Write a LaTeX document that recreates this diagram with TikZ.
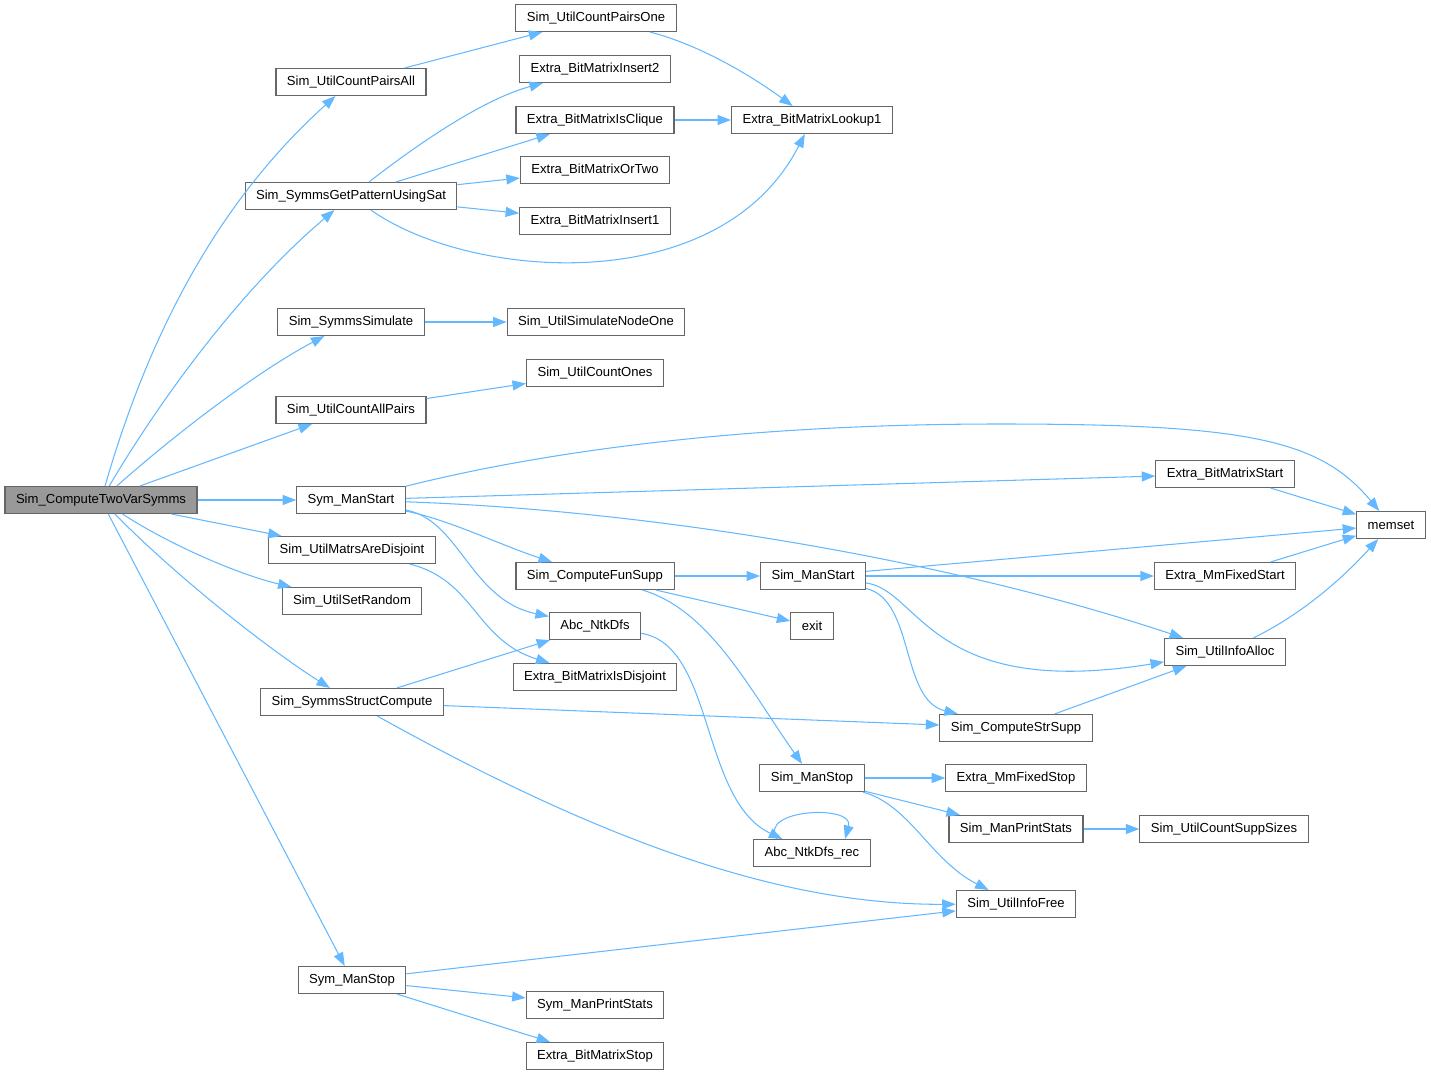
\documentclass[tikz,border=0pt]{standalone}
\usepackage{fontspec}
\setmainfont{Liberation Sans}
\usetikzlibrary{arrows.meta}
\definecolor{edgeblue}{RGB}{99,184,255}
\definecolor{boxgray}{RGB}{102,102,102}
\definecolor{rootgray}{RGB}{153,153,153}
\begin{document}
\begin{tikzpicture}[x=0.02cm,y=-0.02cm]
\tikzset{
  fnnode/.style={rectangle,draw=boxgray,line width=0.6pt,fill=white,minimum height=0.54cm,inner xsep=0.22cm,inner ysep=1pt,font=\fontsize{7.45}{9}\selectfont},
  rootnode/.style={fnnode,fill=rootgray},
  callarrow/.style={draw=edgeblue,line width=0.6pt,-{Triangle[length=0.27cm,width=0.2cm]}}
}
\useasboundingbox (0,0) rectangle (1431,1075);
\node[rootnode] (n_CTVS) at (101,500) {Sim\_ComputeTwoVarSymms};
\node[fnnode] (n_UCPA) at (351,82) {Sim\_UtilCountPairsAll};
\node[fnnode] (n_UCPO) at (596,18) {Sim\_UtilCountPairsOne};
\node[fnnode] (n_BMI2) at (595,69) {Extra\_BitMatrixInsert2};
\node[fnnode] (n_BMIC) at (595,120) {Extra\_BitMatrixIsClique};
\node[fnnode] (n_BML1) at (812,120) {Extra\_BitMatrixLookup1};
\node[fnnode] (n_BMOT) at (595,170) {Extra\_BitMatrixOrTwo};
\node[fnnode] (n_SGPS) at (351,196) {Sim\_SymmsGetPatternUsingSat};
\node[fnnode] (n_BMI1) at (595,221) {Extra\_BitMatrixInsert1};
\node[fnnode] (n_SSIM) at (351,322) {Sim\_SymmsSimulate};
\node[fnnode] (n_USNO) at (596,322) {Sim\_UtilSimulateNodeOne};
\node[fnnode] (n_UCO) at (595,373) {Sim\_UtilCountOnes};
\node[fnnode] (n_UCAP) at (351,410) {Sim\_UtilCountAllPairs};
\node[fnnode] (n_SYMS) at (351,500) {Sym\_ManStart};
\node[fnnode] (n_BMS) at (1225,474) {Extra\_BitMatrixStart};
\node[fnnode] (n_MEMS) at (1391,525) {memset};
\node[fnnode] (n_UMAD) at (352,550) {Sim\_UtilMatrsAreDisjoint};
\node[fnnode] (n_CFS) at (595,576) {Sim\_ComputeFunSupp};
\node[fnnode] (n_SIMS) at (813,576) {Sim\_ManStart};
\node[fnnode] (n_MMFS) at (1225,576) {Extra\_MmFixedStart};
\node[fnnode] (n_USR) at (352,601) {Sim\_UtilSetRandom};
\node[fnnode] (n_DFS) at (595,626) {Abc\_NtkDfs};
\node[fnnode] (n_EXIT) at (812,626) {exit};
\node[fnnode] (n_UIA) at (1225,652) {Sim\_UtilInfoAlloc};
\node[fnnode] (n_BMID) at (595,677) {Extra\_BitMatrixIsDisjoint};
\node[fnnode] (n_SSC) at (352,702) {Sim\_SymmsStructCompute};
\node[fnnode] (n_CSS) at (1016,728) {Sim\_ComputeStrSupp};
\node[fnnode] (n_SIMP) at (812,778) {Sim\_ManStop};
\node[fnnode] (n_MMFP) at (1016,778) {Extra\_MmFixedStop};
\node[fnnode] (n_MPS) at (1016,829) {Sim\_ManPrintStats};
\node[fnnode] (n_UCSS) at (1224,829) {Sim\_UtilCountSuppSizes};
\node[fnnode] (n_DFSR) at (812,853) {Abc\_NtkDfs\_rec};
\node[fnnode] (n_UIF) at (1016,904) {Sim\_UtilInfoFree};
\node[fnnode] (n_SYMP) at (352,980) {Sym\_ManStop};
\node[fnnode] (n_SMPS) at (595,1005) {Sym\_ManPrintStats};
\node[fnnode] (n_BMSP) at (595,1056) {Extra\_BitMatrixStop};
% calls of the root
\draw[callarrow] (n_CTVS) .. controls (150,330) and (220,200) .. (n_UCPA);
\draw[callarrow] (n_CTVS) .. controls (160,400) and (240,290) .. (n_SGPS);
\draw[callarrow] (n_CTVS) .. controls (180,430) and (260,370) .. (n_SSIM);
\draw[callarrow] (n_CTVS) -- (n_UCAP);
\draw[callarrow] (n_CTVS) -- (n_SYMS);
\draw[callarrow] (n_CTVS) -- (n_UMAD);
\draw[callarrow] (n_CTVS) .. controls (170,545) and (240,575) .. (n_USR);
\draw[callarrow] (n_CTVS) .. controls (180,580) and (270,650) .. (n_SSC);
\draw[callarrow] (n_CTVS) -- (n_SYMP);
% upper part
\draw[callarrow] (n_UCPA) -- (n_UCPO);
\draw[callarrow] (n_UCPO) .. controls (700,45) and (750,75) .. (n_BML1);
\draw[callarrow] (n_SGPS) .. controls (410,150) and (480,100) .. (n_BMI2);
\draw[callarrow] (n_SGPS) -- (n_BMIC);
\draw[callarrow] (n_SGPS) -- (n_BMOT);
\draw[callarrow] (n_SGPS) -- (n_BMI1);
\draw[callarrow] (n_SGPS) .. controls (470,280) and (720,300) .. (n_BML1);
\draw[callarrow] (n_BMIC) -- (n_BML1);
\draw[callarrow] (n_SSIM) -- (n_USNO);
\draw[callarrow] (n_UCAP) -- (n_UCO);
% Sym_ManStart
\draw[callarrow] (n_SYMS) .. controls (550,450) and (750,424) .. (1000,424)
  .. controls (1250,424) and (1320,440) .. (n_MEMS);
\draw[callarrow] (n_SYMS) -- (n_BMS);
\draw[callarrow] (n_SYMS) .. controls (650,510) and (950,560) .. (n_UIA);
\draw[callarrow] (n_SYMS) .. controls (450,520) and (500,545) .. (n_CFS);
\draw[callarrow] (n_SYMS) .. controls (460,520) and (470,600) .. (n_DFS);
\draw[callarrow] (n_BMS) -- (n_MEMS);
\draw[callarrow] (n_UMAD) .. controls (475,580) and (475,640) .. (n_BMID);
% Sim_ComputeFunSupp and Sim_ManStart
\draw[callarrow] (n_CFS) -- (n_SIMS);
\draw[callarrow] (n_CFS) -- (n_EXIT);
\draw[callarrow] (n_CFS) .. controls (710,610) and (750,690) .. (n_SIMP);
\draw[callarrow] (n_SIMS) -- (n_MEMS);
\draw[callarrow] (n_SIMS) -- (n_MMFS);
\draw[callarrow] (n_SIMS) .. controls (920,590) and (930,700) .. (n_UIA);
\draw[callarrow] (n_SIMS) .. controls (915,600) and (900,700) .. (n_CSS);
\draw[callarrow] (n_MMFS) -- (n_MEMS);
\draw[callarrow] (n_UIA) .. controls (1310,610) and (1350,570) .. (n_MEMS);
% dfs
\draw[callarrow] (n_DFS) .. controls (715,645) and (700,800) .. (n_DFSR);
\draw[callarrow] ([xshift=-0.7cm]n_DFSR.north) .. controls +(-20,-30) and +(10,-35) .. ([xshift=0.66cm]n_DFSR.north);
% Sim_SymmsStructCompute
\draw[callarrow] (n_SSC) -- (n_DFS);
\draw[callarrow] (n_SSC) -- (n_CSS);
\draw[callarrow] (n_SSC) .. controls (600,840) and (780,905) .. (n_UIF);
\draw[callarrow] (n_CSS) -- (n_UIA);
% Sim_ManStop
\draw[callarrow] (n_SIMP) -- (n_MMFP);
\draw[callarrow] (n_SIMP) -- (n_MPS);
\draw[callarrow] (n_SIMP) .. controls (910,805) and (930,860) .. (n_UIF);
\draw[callarrow] (n_MPS) -- (n_UCSS);
% Sym_ManStop
\draw[callarrow] (n_SYMP) -- (n_UIF);
\draw[callarrow] (n_SYMP) -- (n_SMPS);
\draw[callarrow] (n_SYMP) -- (n_BMSP);
\end{tikzpicture}
\end{document}
